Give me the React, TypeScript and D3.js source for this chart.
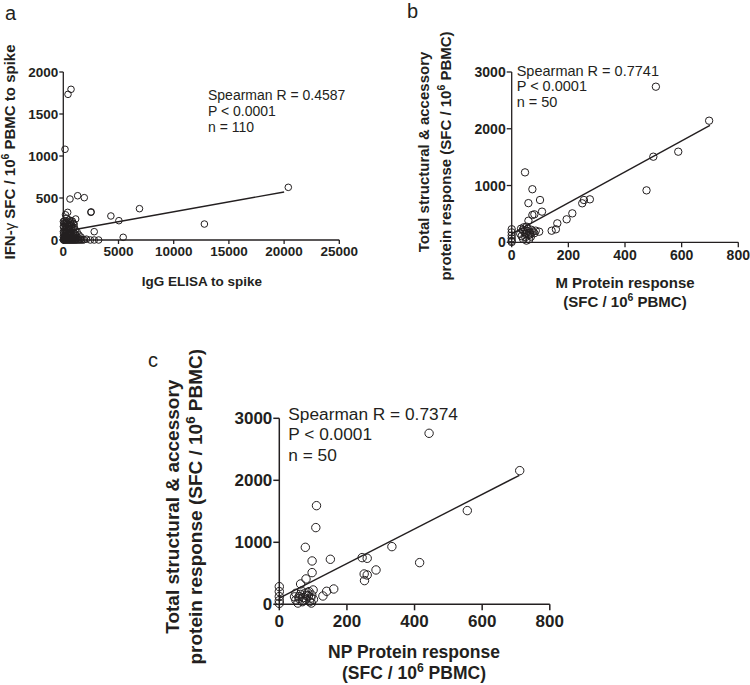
import * as d3 from 'd3';

type Pt = [number, number];

// ---- data ----

// panel a: IgG ELISA to spike vs IFN-g SFC (n = 110)
const spikeOutliers: Pt[] = [
  [700, 1794], [425, 1734], [155, 1080], [606, 488], [1300, 527], [1900, 504],
  [395, 329], [2500, 329], [2520, 335], [4310, 286], [5036, 230], [6900, 373],
  [12780, 190], [20380, 627], [5425, 32], [2800, 99], [3200, 0], [2800, 0],
  [2450, 0], [1120, 250],
];
const spikeCluster: Pt[] = [
  [20, 0], [80, 0], [150, 0], [230, 0], [300, 0], [380, 0], [460, 0], [540, 0],
  [620, 0], [700, 0], [790, 0], [880, 0], [960, 0], [1050, 0], [1150, 0], [1250, 0],
  [1380, 0], [1500, 0], [1650, 0], [1800, 0],
  [40, 30], [120, 50], [200, 20], [310, 45], [420, 25], [520, 55], [640, 35], [760, 20],
  [900, 40], [1020, 30], [1180, 50], [1350, 25],
  [30, 80], [100, 110], [180, 70], [260, 95], [350, 65], [450, 105], [560, 85], [680, 75],
  [800, 110], [950, 90], [1100, 70], [1250, 95],
  [60, 150], [140, 130], [220, 170], [330, 140], [470, 160], [600, 125], [740, 175],
  [880, 140], [1000, 150],
  [50, 200], [120, 230], [250, 210], [380, 190], [520, 240], [660, 205], [820, 225], [980, 190],
  [10, 40], [10, 100], [10, 160], [10, 220], [15, 5],
  [90, 15], [170, 40], [280, 10], [390, 85], [490, 130], [580, 15], [710, 55], [850, 10],
  [1080, 120], [1200, 15], [1420, 60], [1550, 10], [300, 260], [200, 300], [700, 230],
  [900, 200], [1600, 35], [1900, 5], [2100, 10], [130, 190], [420, 215], [580, 180],
  [760, 140], [1000, 60],
];
const spikeFit: Pt[] = [[300, 107], [20000, 572]];

// panel b: M protein vs total structural & accessory (n = 50)
const mProtein: Pt[] = [
  [0, 230], [0, 175], [0, 120], [0, 70], [0, 25], [0, 5],
  [33, 240], [43, 265], [53, 275], [39, 216], [35, 110], [45, 180], [50, 150], [55, 200],
  [60, 130], [62, 53], [65, 170], [70, 220], [48, 90], [57, 240], [75, 190], [68, 100], [80, 160],
  [47, 1232], [73, 935], [59, 690], [100, 745], [107, 540], [73, 481], [80, 493], [59, 380], [97, 187],
  [141, 204], [156, 229], [161, 334], [194, 405], [214, 510], [249, 687], [255, 745], [276, 757],
  [476, 915], [500, 1508], [509, 2741], [588, 1596], [697, 2142],
  [40, 60], [52, 30], [66, 140], [85, 205], [30, 150],
];
const mFit: Pt[] = [[0, 150], [700, 2060]];

// panel c: NP protein vs total structural & accessory (n = 50)
const npProtein: Pt[] = [
  [0, 285], [0, 205], [0, 125], [0, 60], [0, 15],
  [49, 177], [66, 215], [59, 124], [76, 177], [86, 134], [96, 150], [101, 80], [79, 80],
  [49, 69], [68, 42], [90, 42], [55, 20], [72, 110], [84, 190], [62, 160], [93, 100],
  [100, 231], [129, 134], [140, 210], [161, 247], [63, 328], [79, 409], [97, 511], [97, 699],
  [151, 726], [77, 919],
  [108, 1237], [110, 1591],
  [245, 753], [260, 742], [251, 489], [260, 473], [252, 382], [286, 554], [333, 930], [415, 672],
  [443, 2758], [556, 1511], [711, 2156],
  [45, 120], [70, 60], [80, 140], [95, 20], [58, 95], [88, 205],
];
const npFit: Pt[] = [[0, 100], [710, 2080]];

const spikeXTicks = [0, 5000, 10000, 15000, 20000, 25000];
const spikeYTicks = [0, 500, 1000, 1500, 2000];
const proteinXTicks = [0, 200, 400, 600, 800];
const proteinYTicks = [0, 1000, 2000, 3000];

const statsA = ['Spearman R = 0.4587', 'P < 0.0001', 'n = 110'];
const statsB = ['Spearman R = 0.7741', 'P < 0.0001', 'n = 50'];
const statsC = ['Spearman R = 0.7374', 'P < 0.0001', 'n = 50'];

const FONT = "'Liberation Sans', Arial, Helvetica, sans-serif";
const INK = '#231f20';

interface PanelProps {
  points: Pt[];
  fit: Pt[];
  xDomain: [number, number];
  yDomain: [number, number];
  xRange: [number, number];
  yRange: [number, number];
  xTicks: number[];
  yTicks: number[];
  tick: number;
  tickFont: number;
  xLabelDy: number;
  r: number;
  axisW: number;
  stats: string[];
  statsX: number;
  statsY: number;
  statsFont: number;
  statsGap: number;
}

function Panel(p: PanelProps) {
  const x = d3.scaleLinear().domain(p.xDomain).range(p.xRange);
  const y = d3.scaleLinear().domain(p.yDomain).range(p.yRange);
  const line = d3.line<Pt>().x((d) => x(d[0])).y((d) => y(d[1]));
  const x0 = x(p.xDomain[0]);
  const y0 = y(p.yDomain[0]);
  return (
    <g>
      {/* axes */}
      <line x1={x0} x2={x0} y1={y(p.yDomain[1])} y2={y0} stroke={INK} strokeWidth={p.axisW} />
      <line x1={x0} x2={x(p.xDomain[1])} y1={y0} y2={y0} stroke={INK} strokeWidth={p.axisW} />
      {p.yTicks.map((t) => (
        <g key={'y' + t}>
          <line x1={x0 - p.tick} x2={x0} y1={y(t)} y2={y(t)} stroke={INK} strokeWidth={p.axisW} />
          <text
            x={x0 - p.tick - 1}
            y={y(t)}
            dy="0.36em"
            textAnchor="end"
            fontSize={p.tickFont}
            fontWeight="bold"
            fill={INK}
          >
            {t}
          </text>
        </g>
      ))}
      {p.xTicks.map((t) => (
        <g key={'x' + t}>
          <line x1={x(t)} x2={x(t)} y1={y0} y2={y0 + p.tick} stroke={INK} strokeWidth={p.axisW} />
          <text
            x={x(t)}
            y={y0 + p.xLabelDy}
            textAnchor="middle"
            fontSize={p.tickFont}
            fontWeight="bold"
            fill={INK}
          >
            {t}
          </text>
        </g>
      ))}
      {/* regression line */}
      <path d={line(p.fit) ?? ''} fill="none" stroke={INK} strokeWidth={1.4} />
      {/* points */}
      {p.points.map((d, i) => (
        <circle key={i} cx={x(d[0])} cy={y(d[1])} r={p.r} fill="none" stroke={INK} strokeWidth={1} />
      ))}
      {/* stats */}
      {p.stats.map((s, i) => (
        <text key={s} x={p.statsX} y={p.statsY + i * p.statsGap} fontSize={p.statsFont} fill={INK}>
          {s}
        </text>
      ))}
    </g>
  );
}

function Sup() {
  return (
    <tspan baselineShift="super" fontSize="70%">
      6
    </tspan>
  );
}

export default function App() {
  return (
    <div style={{ position: 'absolute', left: 0, top: 0 }}>
      <svg width={750} height={685} style={{ display: 'block', fontFamily: FONT }}>
        <rect width={750} height={685} fill="#fff" />

        {/* panel a */}
        <text x={5} y={20} fontSize={20} fill={INK}>a</text>
        <Panel
          points={[...spikeOutliers, ...spikeCluster]}
          fit={spikeFit}
          xDomain={[0, 25000]}
          yDomain={[0, 2000]}
          xRange={[63.3, 339.3]}
          yRange={[240, 72]}
          xTicks={spikeXTicks}
          yTicks={spikeYTicks}
          tick={4}
          tickFont={13.5}
          xLabelDy={15.7}
          r={3.3}
          axisW={1.3}
          stats={statsA}
          statsX={208}
          statsY={99.5}
          statsFont={14}
          statsGap={16}
        />
        <text
          transform="translate(15,152) rotate(-90)"
          textAnchor="middle"
          fontSize={15}
          fontWeight="bold"
          fill={INK}
        >
          IFN-<tspan fontWeight="normal">γ</tspan> SFC / 10<Sup /> PBMC to spike
        </text>
        <text x={202} y={286} textAnchor="middle" fontSize={13.5} fontWeight="bold" fill={INK}>
          IgG ELISA to spike
        </text>

        {/* panel b */}
        <text x={407} y={17.5} fontSize={20} fill={INK}>b</text>
        <Panel
          points={mProtein}
          fit={mFit}
          xDomain={[0, 800]}
          yDomain={[0, 3000]}
          xRange={[511.7, 738.3]}
          yRange={[242.3, 72]}
          xTicks={proteinXTicks}
          yTicks={proteinYTicks}
          tick={5}
          tickFont={14}
          xLabelDy={17.5}
          r={3.7}
          axisW={1.3}
          stats={statsB}
          statsX={516.7}
          statsY={75.5}
          statsFont={14.5}
          statsGap={15.8}
        />
        <text
          transform="translate(428.7,152) rotate(-90)"
          textAnchor="middle"
          fontSize={15}
          fontWeight="bold"
          fill={INK}
        >
          Total structural &amp; accessory
        </text>
        <text
          transform="translate(450.7,156) rotate(-90)"
          textAnchor="middle"
          fontSize={15}
          fontWeight="bold"
          fill={INK}
        >
          protein response (SFC / 10<Sup /> PBMC)
        </text>
        <text x={625} y={288} textAnchor="middle" fontSize={15} fontWeight="bold" fill={INK}>
          M Protein response
        </text>
        <text x={625} y={306.5} textAnchor="middle" fontSize={15} fontWeight="bold" fill={INK}>
          (SFC / 10<Sup /> PBMC)
        </text>

        {/* panel c */}
        <text x={148} y={367} fontSize={20} fill={INK}>c</text>
        <Panel
          points={npProtein}
          fit={npFit}
          xDomain={[0, 800]}
          yDomain={[0, 3000]}
          xRange={[279.3, 549.8]}
          yRange={[604.3, 418.3]}
          xTicks={proteinXTicks}
          yTicks={proteinYTicks}
          tick={6}
          tickFont={17}
          xLabelDy={23}
          r={4.2}
          axisW={1.5}
          stats={statsC}
          statsX={288.3}
          statsY={420}
          statsFont={17.3}
          statsGap={20.3}
        />
        <text
          transform="translate(178.6,506.7) rotate(-90)"
          textAnchor="middle"
          fontSize={19}
          fontWeight="bold"
          fill={INK}
        >
          Total structural &amp; accessory
        </text>
        <text
          transform="translate(201.6,506.7) rotate(-90)"
          textAnchor="middle"
          fontSize={19}
          fontWeight="bold"
          fill={INK}
        >
          protein response (SFC / 10<Sup /> PBMC)
        </text>
        <text x={414} y={658} textAnchor="middle" fontSize={17.5} fontWeight="bold" fill={INK}>
          NP Protein response
        </text>
        <text x={414} y={679} textAnchor="middle" fontSize={17.5} fontWeight="bold" fill={INK}>
          (SFC / 10<Sup /> PBMC)
        </text>
      </svg>
    </div>
  );
}
